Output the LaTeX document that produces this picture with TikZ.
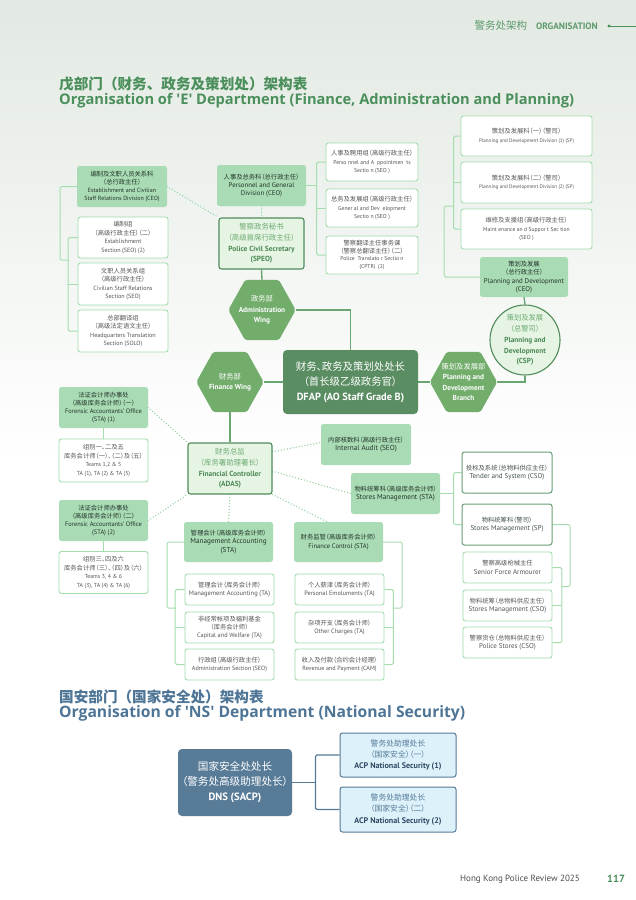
\documentclass[tikz,border=0pt]{standalone}
\usepackage{fontspec}
\usepackage{graphicx}
\setmainfont{PT Sans}
\newfontfamily\cjkf{Noto Sans CJK SC}[RawFeature=+palt]
\newfontfamily\cjkt{Noto Sans CJK SC}
\newfontfamily\titf{Open Sans}
\usetikzlibrary{calc}
\pgfdeclarelayer{pagebg}
\pgfdeclarelayer{wires}
\pgfsetlayers{pagebg,wires,main}
\newcommand\setfs[2]{\fontsize{#1}{#2}\selectfont}
\newcommand\zh[1]{{\cjkf #1}}
\newcommand\zhs[1]{{\cjkf\fontsize{6.3}{8.4}\selectfont #1}}
\newcommand\zhl[1]{{\mdseries\color{lzh}\cjkf #1}}
\definecolor{titg}{HTML}{4B8F5C}
\definecolor{nsblue}{HTML}{4E7596}
\definecolor{gfill}{HTML}{A9DBB5}
\definecolor{wborder}{HTML}{A3DCAD}
\definecolor{dborder}{HTML}{4F8C5A}
\definecolor{lfill}{HTML}{E6F4E4}
\definecolor{hexcol}{HTML}{72AD6C}
\definecolor{dfapcol}{HTML}{5A8D62}
\definecolor{mainline}{HTML}{6AA672}
\definecolor{brline}{HTML}{A6DDAF}
\definecolor{dotcol}{HTML}{98D3A3}
\definecolor{gtext}{HTML}{24352A}
\definecolor{wtext}{HTML}{555555}
\definecolor{lzh}{HTML}{6CAB72}
\definecolor{len}{HTML}{4A8954}
\definecolor{acpfill}{HTML}{DDF1FA}
\definecolor{acpborder}{HTML}{567B98}
\definecolor{acptext}{HTML}{2F4A63}
\definecolor{dnsfill}{HTML}{587B97}
\definecolor{bgtop}{HTML}{E2E9E2}
\tikzset{
  box/.style={rectangle, rounded corners=2.5pt, align=center, inner sep=0.5pt},
  sz/.style 2 args={minimum width=#1, minimum height=#2},
  wbox/.style={box, fill=white, draw=wborder, line width=0.9pt, text=wtext, font=\setfs{#1}{8.4}},
  wbox/.default=6.3,
  dwbox/.style={wbox=#1, draw=dborder!85, line width=1pt, text=gtext!85},
  dwbox/.default=6.9,
  gbox/.style={box, fill=gfill, text=gtext, font=\setfs{#1}{8.2}},
  gbox/.default=6.5,
  lbox/.style={box, fill=lfill, draw=dborder, line width=1.1pt, text=len, font=\setfs{7.4}{10.6}\bfseries},
  hexarea/.style={rectangle, inner sep=0pt, minimum width=67pt, minimum height=60pt},
  hextxt/.style={align=center, text=white, font=\setfs{7.3}{10.4}\bfseries, inner sep=0pt},
  ml/.style={draw=mainline, line width=1.4pt},
  brl/.style={draw=brline, line width=1pt, rounded corners=1.5pt},
  dl/.style={draw=dotcol, line width=1.5pt, line cap=round, dash pattern=on 0pt off 3pt},
  nsl/.style={draw=acpborder, line width=1.1pt, rounded corners=1.5pt},
  acpbox/.style={box, fill=acpfill, draw=acpborder, line width=1pt, text=acptext, font=\setfs{8.1}{11.2}},
}
\newcommand\hexshape[1]{\fill[hexcol, rounded corners=2pt] (#1.west) -- ($(#1.north west)!.25!(#1.north east)$) -- ($(#1.north west)!.75!(#1.north east)$) -- (#1.east) -- ($(#1.south west)!.75!(#1.south east)$) -- ($(#1.south west)!.25!(#1.south east)$) -- cycle;}
\begin{document}
\begin{tikzpicture}[x=1pt,y=-1pt]
\useasboundingbox (0,0) rectangle (636,900);
\begin{pgfonlayer}{pagebg}
\shade[top color=bgtop, bottom color=white] (0,0) rectangle (636,460);
\fill[white] (0,460) rectangle (636,900);
\end{pgfonlayer}

% header
\node[anchor=east, inner sep=0, text=titg!90, font=\setfs{9.3}{10}\bfseries] (hdr) at (598,26) {\zh{\mdseries\setfs{10.5}{11}警务处架构}\hspace{9pt}ORGANISATION};
\coordinate (hdot) at (609,26);
\coordinate (hend) at (636,26);
\draw[titg, line width=0.9pt] (hdot) -- (hend);
\fill[titg] (hdot) circle (1.6pt);

% titles
\node[anchor=west, inner sep=0, text=titg, font=\cjkt\bfseries\setfs{14.6}{16}] (t1zh) at (59,84) {戊部门（财务、政务及策划处）架构表};
\node[anchor=west, inner sep=0, text=titg, font=\titf\bfseries\setfs{13.2}{15}] (t1en) at (59,101) {\resizebox{515pt}{!}{Organisation of \textquotesingle E\textquotesingle\ Department (Finance, Administration and Planning)}};

% planning side
\node[wbox=5.1, sz={131pt}{40pt}] (pd1) at (526.5,136) {\zhs{策划及发展科（一）（警司）}\\Planning and Development Division (1) (SP)};
\node[wbox=5.1, sz={131pt}{41pt}] (pd2) at (526.5,182.5) {\zhs{策划及发展科（二）（警司）}\\Planning and Development Division (2) (SP)};
\node[wbox=5.6, sz={131pt}{40pt}] (ms) at (526.5,229) {\zhs{维修及支援组（高级行政主任）}\\Maint enance an d Suppor t Sec tion\\(SEO )};
\node[gbox=6.9, sz={88pt}{40pt}] (pdceo) at (524,277) {\zhs{策划及发展}\\\zhs{（总行政主任）}\\Planning and Development\\(CEO)};
\node[circle, fill=lfill, draw=dborder, line width=1.1pt, minimum size=70pt, inner sep=0pt] (csp) at (525,340) {};
\node[align=center, inner sep=0pt, text=len, font=\setfs{7.3}{10.8}\bfseries] (cspT) at (csp) {\zhl{策划及发展}\\\zhl{（总警司）}\\Planning and\\Development\\(CSP)};

\node[hexarea] (pdb) at (463.5,382) {};
\hexshape{pdb}
\node[hextxt] (pdbT) at (pdb) {\zh{\mdseries 策划及发展部}\\Planning and\\Development\\Branch};

\node[box, fill=dfapcol, text=white, rounded corners=4pt, sz={135pt}{64pt}, font=\setfs{10.4}{15}] (dfap) at (350.5,382) {\zh{财务、政务及策划处处长}\\\zh{（首长级乙级政务官）}\\\textbf{DFAP (AO Staff Grade B)}};

% administration side
\node[hexarea] (adm) at (262,310) {};
\hexshape{adm}
\node[hextxt] (admT) at (adm) {\zh{\mdseries 政务部}\\Administration\\Wing};
\node[lbox, sz={85pt}{51pt}] (speo) at (261.5,243.5) {\zhl{警察政务秘书}\\\zhl{（高级首席行政主任）}\\Police Civil Secretary\\(SPEO)};
\node[gbox=6.8, sz={89pt}{41pt}] (pgd) at (261.5,185.5) {\zhs{人事及总务科（总行政主任）}\\Personnel and General\\Division (CEO)};
\node[wbox=5.7, sz={92pt}{38pt}] (pa) at (372,162) {\zhs{人事及聘用组（高级行政主任）}\\Perso nnel and A\enspace ppointmen\enspace ts\\Sectio n (SEO )};
\node[wbox=5.7, sz={92pt}{38pt}] (gd) at (372,208) {\zhs{总务及发展组（高级行政主任）}\\Gener al and Dev\enspace elopment\\Sectio n (SEO )};
\node[wbox=5.6, sz={92pt}{38pt}, font=\setfs{5.6}{7.7}] (pts) at (372,255) {\zhs{警察翻译主任事务课}\\\zhs{（警察总翻译主任）（二）}\\Police\enspace Translato r Sectio n\\(CPTR)\enspace (2)};

\node[gbox=6.0, sz={90pt}{41pt}] (ecsr) at (122,186.5) {\zhs{编制及文职人员关系科}\\\zhs{（总行政主任）}\\Establishment and Civilian\\Staff Relations Division (CEO)};
\node[wbox=6.1, sz={90pt}{41pt}] (es) at (123,237.5) {\zhs{编制组}\\\zhs{（高级行政主任）（二）}\\Establishment\\Section (SEO) (2)};
\node[wbox=6.1, sz={90pt}{42pt}] (csrs) at (123,284) {\zhs{文职人员关系组}\\\zhs{（高级行政主任）}\\Civilian Staff Relations\\Section (SEO)};
\node[wbox=6.1, sz={90pt}{42pt}] (hts) at (123,331) {\zhs{总部翻译组}\\\zhs{（高级法定语文主任）}\\Headquarters Translation\\Section (SOLO)};

% finance side
\node[hexarea] (fw) at (230,382) {};
\hexshape{fw}
\node[hextxt] (fwT) at (fw) {\zh{\mdseries 财务部}\\Finance Wing};
\node[lbox, sz={84pt}{51pt}] (adas) at (230,468.5) {\zhl{财务总监}\\\zhl{（库务署助理署长）}\\Financial Controller\\(ADAS)};

\node[gbox=6.4, sz={89pt}{41pt}] (fao1) at (103.5,407.5) {\zhs{法证会计师办事处}\\\zhs{（高级库务会计师）（一）}\\Forensic Accountants’ Office\\(STA) (1)};
\node[wbox=5.8, sz={89pt}{43pt}] (tm1) at (103.5,460.5) {\zhs{组别一、二及五}\\\zhs{库务会计师（一）、（二）及（五）}\\Teams 1,2 \& 5\\TA (1), TA (2) \& TA (5)};
\node[gbox=6.4, sz={89pt}{41pt}] (fao2) at (103.5,520.5) {\zhs{法证会计师办事处}\\\zhs{（高级库务会计师）（二）}\\Forensic Accountants’ Office\\(STA) (2)};
\node[wbox=5.8, sz={89pt}{42pt}] (tm2) at (103.5,572.5) {\zhs{组别三、四及六}\\\zhs{库务会计师（三）、（四）及（六）}\\Teams 3, 4 \& 6\\TA (3), TA (4) \& TA (6)};

\node[gbox=7.3, sz={90pt}{41pt}] (ia) at (366,444.5) {\zhs{内部核数科（高级行政主任）}\\Internal Audit (SEO)};
\node[gbox=7.2, sz={89pt}{41pt}] (smsta) at (395.5,493.5) {\zhs{物料统筹科（高级库务会计师）}\\Stores Management (STA)};
\node[dwbox=7.0, sz={90pt}{41pt}] (ts) at (507,472.5) {\zhs{投标及系统（总物料供应主任）}\\Tender and System (CSO)};
\node[dwbox=7.0, sz={90pt}{41pt}] (smsp) at (507,524.5) {\zhs{物料统筹科（警司）}\\Stores Management (SP)};
\node[wbox=7.0, sz={89pt}{31pt}] (sfa) at (507.5,567.5) {\zhs{警察高级枪械主任}\\Senior Force Armourer};
\node[wbox=7.0, sz={89pt}{31pt}] (smcso) at (507.5,605.5) {\zhs{物料统筹（总物料供应主任）}\\Stores Management (CSO)};
\node[wbox=7.0, sz={89pt}{31pt}] (ps) at (507.5,642.5) {\zhs{警察货仓（总物料供应主任）}\\Police Stores (CSO)};

\node[gbox=7.2, sz={89pt}{40pt}] (masta) at (228.5,542) {\zhs{管理会计（高级库务会计师）}\\Management Accounting\\(STA)};
\node[gbox=6.6, sz={89pt}{40pt}] (fc) at (338.5,542) {\zhs{财务监管（高级库务会计师）}\\Finance Control (STA)};
\node[wbox=6.5, sz={89pt}{31pt}] (mata) at (229.5,589.5) {\zhs{管理会计（库务会计师）}\\Management Accounting (TA)};
\node[wbox=6.3, sz={89pt}{31pt}, font=\setfs{6.3}{7.8}] (cw) at (229.5,627.5) {\zhs{非经常帐项及福利基金}\\\zhs{（库务会计师）}\\Capital and Welfare (TA)};
\node[wbox=6.1, sz={89pt}{31pt}] (as) at (229.5,664.5) {\zhs{行政组（高级行政主任）}\\Administration Section (SEO)};
\node[wbox=6.3, sz={89pt}{31pt}] (pe) at (339.5,589.5) {\zhs{个人薪津（库务会计师）}\\Personal Emoluments (TA)};
\node[wbox=6.3, sz={89pt}{31pt}] (oc) at (339.5,627.5) {\zhs{杂项开支（库务会计师）}\\Other Charges (TA)};
\node[wbox=6.1, sz={89pt}{31pt}] (rp) at (339.5,664.5) {\zhs{收入及付款（合约会计经理）}\\Revenue and Payment (CAM)};

% NS section
\node[anchor=west, inner sep=0, text=nsblue, font=\cjkt\bfseries\setfs{14.6}{16}] (t2zh) at (59,697) {国安部门（国家安全处）架构表};
\node[anchor=west, inner sep=0, text=nsblue, font=\titf\bfseries\setfs{13.2}{15}] (t2en) at (59,713) {\resizebox{406pt}{!}{Organisation of \textquotesingle NS\textquotesingle\ Department (National Security)}};
\node[box, fill=dnsfill, text=white, rounded corners=4pt, sz={114pt}{67pt}, font=\setfs{10.6}{15}] (dns) at (235,782.5) {\zh{国家安全处处长}\\\zh{（警务处高级助理处长）}\\\textbf{DNS (SACP)}};
\node[acpbox, sz={116pt}{44pt}] (acp1) at (398,755) {\zh{\color{acpborder}\setfs{7.8}{11}警务处助理处长}\\\zh{\color{acpborder}\setfs{7.8}{11}（国家安全）（一）}\\\textbf{ACP National Security (1)}};
\node[acpbox, sz={116pt}{45pt}] (acp2) at (398,809.5) {\zh{\color{acpborder}\setfs{7.8}{11}警务处助理处长}\\\zh{\color{acpborder}\setfs{7.8}{11}（国家安全）（二）}\\\textbf{ACP National Security (2)}};

% footer
\node[anchor=east, inner sep=0, text=black!70, font=\setfs{9}{11}] (foot) at (580,879) {Hong Kong Police Review 2025};
\node[anchor=west, inner sep=0, text=titg, font=\bfseries\setfs{10.5}{12}] (pgno) at (607,879) {117};

% junction coordinates
\coordinate (pdj) at (454,206);
\coordinate (pgdj) at (317,185.5);
\coordinate (ecj) at (68.5,260);
\coordinate (tsj) at (454,493.5);
\coordinate (spj) at (561.5,586.5);
\coordinate (maj) at (176,608);
\coordinate (fcj) at (393,608);
\coordinate (nsj) at (316,782.5);

\begin{pgfonlayer}{wires}
% main connectors
\draw[ml] (speo.south) -- (adm.north);
\draw[ml] (adm.east) -| (dfap.north);
\draw[ml] (fw.east) -- (dfap.west);
\draw[ml] (fw.south) -- (adas.north);
\draw[ml] (dfap.east) -- (pdb.west);
\draw[ml] (csp.south) |- (pdb.east);
\draw[ml] (pdceo.south) -- (csp.north);
% brackets
\draw[brl] (pd1.west) -- ++(-7,0) |- (ms.west);
\draw[brl] (pd2.west) -- ++(-7,0);
\draw[brl] (pdceo.west) -| ($(pdj)+(-10,0)$) -- (pdj);
\draw[brl] (pa.west) -- ++(-9,0) |- (pts.west);
\draw[brl] (gd.west) -- ++(-9,0);
\draw[brl] (pgd.east) -- (pgdj);
\draw[brl] (ecsr.west) -| ($(ecj)+(-8.5,0)$) -- (ecj);
\draw[brl] (es.west) -- ++(-9.5,0) |- (hts.west);
\draw[brl] (csrs.west) -- ++(-9.5,0);
\draw[brl] (fao1.south) -- (tm1.north);
\draw[brl] (fao2.south) -- (tm2.north);
\draw[brl] (ts.west) -- ++(-8,0) |- (smsp.west);
\draw[brl] (smsta.east) -- (tsj);
\draw[brl] (smsp.east) -| ($(spj)+(8.5,0)$) -- (spj);
\draw[brl] (sfa.east) -- ++(9.5,0) |- (ps.east);
\draw[brl] (smcso.east) -- ++(9.5,0);
\draw[brl] (masta.west) -| ($(maj)+(-9,0)$) -- (maj);
\draw[brl] (mata.west) -- ++(-9.5,0) |- (as.west);
\draw[brl] (cw.west) -- ++(-9.5,0);
\draw[brl] (fc.east) -| ($(fcj)+(9,0)$) -- (fcj);
\draw[brl] (pe.east) -- ++(9,0) |- (rp.east);
\draw[brl] (oc.east) -- ++(9,0);
% dotted links
\draw[dl] (ecsr.east) -- (speo.north west);
\draw[dl] (pgd.south) -- (speo.north);
\draw[dl] (fao1.east) -- (adas.north west);
\draw[dl] (fao2.east) -- (adas.south west);
\draw[dl] ($(adas.north east)!0.18!(adas.south east)$) -- ($(ia.north west)!0.45!(ia.south west)$);
\draw[dl] ($(adas.north east)!0.55!(adas.south east)$) -- (smsta.west);
\draw[dl] (adas.south) -- (masta.north);
\draw[dl] (adas.south east) -- ($(fc.north west)!0.37!(fc.north east)$);
% NS
\draw[nsl] (dns.east) -- (nsj);
\draw[nsl] (acp1.west) -- ++(-24,0) |- (acp2.west);
\end{pgfonlayer}
\end{tikzpicture}
\end{document}
